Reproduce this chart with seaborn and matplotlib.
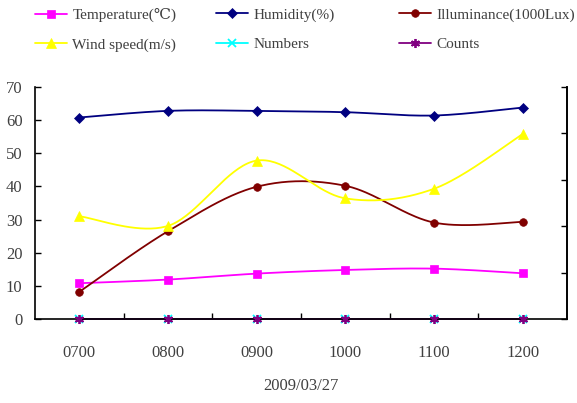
import numpy as np
import pandas as pd
import matplotlib
matplotlib.use("Agg")
import matplotlib.pyplot as plt
from matplotlib.lines import Line2D
import seaborn as sns

# Hourly readings for 2009/03/27
times = ["0700", "0800", "0900", "1000", "1100", "1200"]
temperature = [10.8, 11.9, 13.7, 14.8, 15.2, 13.8]
humidity = [60.8, 62.8, 62.8, 62.4, 61.4, 63.8]
illuminance = [8.2, 26.5, 39.9, 40.2, 29.1, 29.3]
wind_speed = [31.0, 28.1, 47.8, 36.4, 39.3, 55.8]
numbers = [0, 0, 0, 0, 0, 0]
counts = [0, 0, 0, 0, 0, 0]

y_ticks = [0, 10, 20, 30, 40, 50, 60, 70]
x_label = "2009/03/27"

sns.set_theme(style="white")
plt.rcParams["font.family"] = ["Liberation Serif", "DejaVu Serif"]
TEXT = "#404040"

series = [
    ("Temperature(℃)", temperature, "#FF00FF", "s", 5.5),
    ("Humidity(%)", humidity, "#000080", "D", 5.0),
    ("Illuminance(1000Lux)", illuminance, "#800000", "o", 5.5),
    ("Wind speed(m/s)", wind_speed, "#FFFF00", "^", 7.0),
    ("Numbers", numbers, "#00FFFF", "x", 5.5),
    ("Counts", counts, "#800080", (6, 2, 0), 6.5),
]


def smooth_curve(xs, ys, n=40):
    """Cubic Bezier smoothing through every point (spreadsheet-style)."""
    pts = np.column_stack([xs, ys]).astype(float)
    segs = []
    for i in range(len(pts) - 1):
        p0 = pts[i - 1] if i > 0 else pts[i]
        p1, p2 = pts[i], pts[i + 1]
        p3 = pts[i + 2] if i + 2 < len(pts) else pts[i + 1]
        c1 = p1 + (p2 - p0) / 6.0
        c2 = p2 - (p3 - p1) / 6.0
        t = np.linspace(0, 1, n)[:, None]
        seg = ((1 - t) ** 3) * p1 + 3 * ((1 - t) ** 2) * t * c1 \
            + 3 * (1 - t) * (t ** 2) * c2 + (t ** 3) * p2
        segs.append(seg if i == 0 else seg[1:])
    return np.vstack(segs)


fig = plt.figure(figsize=(5.77, 4.03), dpi=100)
ax = fig.add_axes([0.0607, 0.2084, 0.9827 - 0.0607, 0.7841 - 0.2084])

xpos = np.arange(len(times))
handles = []
for name, vals, color, marker, ms in series:
    curve = smooth_curve(xpos, vals)
    df = pd.DataFrame({"x": curve[:, 0], "y": curve[:, 1]})
    sns.lineplot(data=df, x="x", y="y", sort=False, estimator=None,
                 color=color, linewidth=1.3, ax=ax, legend=False, clip_on=False)
    mew = 1.3 if marker in ("x",) or isinstance(marker, tuple) else 0.5
    ax.plot(xpos, vals, linestyle="none", marker=marker, markersize=ms,
            color=color, markeredgecolor=color, markeredgewidth=mew,
            clip_on=False, zorder=5)
    handles.append(Line2D([0], [0], color=color, linewidth=1.3, marker=marker,
                          markersize=ms, markeredgecolor=color,
                          markeredgewidth=mew, label=name))

ax.set_xlim(-0.5, len(times) - 0.5)
ax.set_ylim(0, 70)
ax.set_yticks(y_ticks)
ax.set_yticklabels([str(v) for v in y_ticks], fontsize=12, color=TEXT)
ax.set_xticks(xpos)
ax.set_xticklabels(times, fontsize=12, color=TEXT)
ax.set_xticks(np.arange(0.5, len(times) - 0.5, 1.0), minor=True)
ax.tick_params(axis="x", which="major", length=0, pad=19)
ax.tick_params(axis="x", which="minor", direction="in", length=4.5,
               width=1.0, color="#000000", bottom=True)
ax.tick_params(axis="y", which="major", direction="in", length=4,
               width=1.0, color="#000000", left=True, pad=9)
ax.set_xlabel(x_label, fontsize=12, color=TEXT, labelpad=12)
ax.set_ylabel("")

for side in ("left", "bottom", "right"):
    ax.spines[side].set_visible(True)
    ax.spines[side].set_color("#000000")
    ax.spines[side].set_linewidth(1.2)
ax.spines["top"].set_visible(False)
ax.grid(False)

# Secondary scale on the right: inward ticks, no labels
ax2 = ax.twinx()
ax2.set_ylim(0, 1)
ax2.set_yticks(np.linspace(0, 1, 6))
ax2.set_yticklabels([])
ax2.tick_params(axis="y", direction="in", length=4, width=1.0,
                color="#000000", right=True)
for side in ("left", "bottom", "top"):
    ax2.spines[side].set_visible(False)
ax2.spines["right"].set_color("#000000")
ax2.spines["right"].set_linewidth(1.2)
ax2.grid(False)

# Legend in three columns above the plot
col_x = [0.058, 0.372, 0.688]
for c in range(3):
    hs = [handles[c], handles[c + 3]]
    leg = fig.legend(handles=hs, loc="upper left",
                     bbox_to_anchor=(col_x[c], 0.984),
                     frameon=False, fontsize=11, handlelength=2.1,
                     handletextpad=0.35, labelspacing=1.03,
                     borderaxespad=0.0, borderpad=0.1)
    for t in leg.get_texts():
        t.set_color(TEXT)

fig.savefig("out.png", dpi=100)
